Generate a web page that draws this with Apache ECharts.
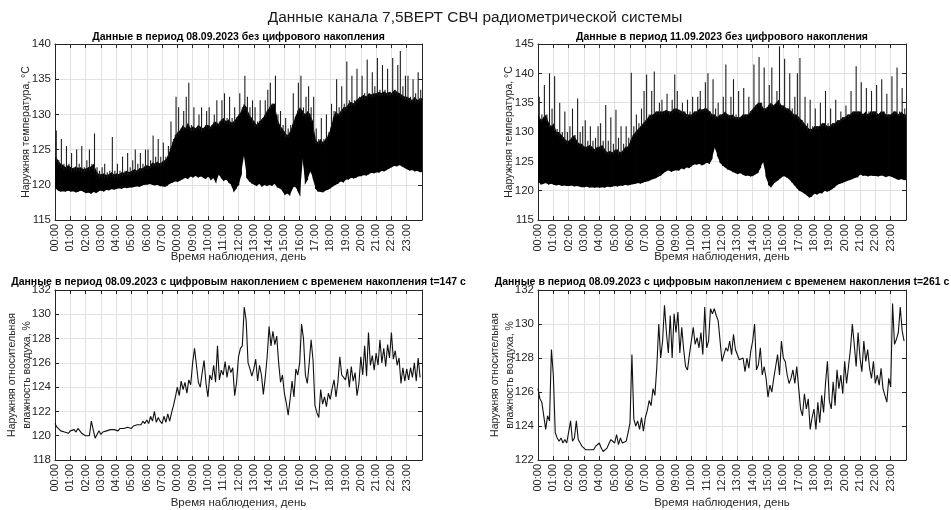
<!DOCTYPE html>
<html><head><meta charset="utf-8">
<script src="https://cdn.jsdelivr.net/npm/echarts@6/dist/echarts.min.js"></script>
<style>html,body{margin:0;padding:0;background:#fff}#c{width:951px;height:510px}</style>
</head><body><div id="c"></div><script>
// Tick labels (as shown in the reference, incl. its "00:00" at 8 h)
const xTickLabels = ['00:00','01:00','02:00','03:00','04:00','05:00','06:00','07:00','00:00','09:00','10:00','11:00',
  '12:00','13:00','14:00','15:00','16:00','17:00','18:00','19:00','20:00','21:00','22:00','23:00'];

// Top-left (08.09.2023, raw): 10-min samples
const rawStep = 1/6;
// lower edge of the signal
const tlLow = [
 119.5,119.2,119.0,119.1,119.0,119.2, 119.0,119.1,118.9,119.0,119.2,119.0,
 118.8,118.9,118.7,119.0,118.8,119.1, 119.2,119.0,119.3,119.2,119.4,119.3,
 119.4,119.5,119.4,119.6,119.5,119.6, 119.6,119.7,119.8,119.7,119.9,120.0,
 120.0,120.1,120.0,119.9,120.0,119.8, 119.8,119.7,119.9,120.2,120.3,120.5,
 120.4,120.6,120.8,121.0,120.8,121.2, 121.0,121.3,121.0,121.2,121.0,120.8,
 121.2,120.6,121.0,120.2,121.5,121.0, 120.5,120.8,120.3,120.0,118.9,119.5,
 120.0,121.5,124.5,121.0,120.5,120.2, 120.0,119.8,120.2,119.7,120.0,119.8,
 120.0,119.8,120.2,119.6,119.5,119.2, 118.5,118.8,118.4,119.5,119.8,119.2,
 118.3,124.0,120.0,120.8,122.0,121.0, 119.5,119.0,119.0,118.9,119.2,119.3,
 119.5,119.8,120.0,120.2,120.5,120.3, 120.8,120.7,121.0,120.9,121.0,121.2,
 121.2,121.4,121.3,121.5,121.7,121.6, 121.8,121.7,122.0,121.9,122.1,122.3,
 122.5,122.7,122.6,122.8,122.6,122.4, 122.2,122.0,122.1,121.9,122.0,121.8];
// upper edge of the dense (solid) part
const tlCore = [
 124.0,123.5,123.0,122.8,122.5,122.8, 122.5,122.3,122.6,122.4,122.5,122.2,
 122.3,122.5,122.6,123.0,122.0,121.5, 121.5,121.6,121.4,121.5,121.8,121.5,
 121.6,121.5,121.8,121.7,122.0,121.8, 122.0,122.2,122.0,122.4,122.3,122.6,
 122.8,122.6,123.2,123.0,123.3,123.0, 123.3,123.5,124.0,125.0,126.0,127.0,
 127.5,127.8,128.5,128.0,128.8,128.0, 128.3,128.0,128.5,128.2,128.0,128.5,
 128.5,128.2,128.8,129.0,128.6,129.2, 129.5,129.0,129.3,128.8,129.0,129.5,
 130.0,130.5,131.5,131.0,130.0,129.5, 129.0,128.5,129.0,129.3,129.8,130.5,
 131.0,131.5,131.5,129.5,128.5,128.0, 127.5,127.0,127.5,128.5,129.5,130.5,
 131.0,130.5,130.0,130.5,130.0,129.0, 126.5,126.0,126.5,126.0,126.5,127.0,
 128.0,129.5,130.5,130.0,130.5,131.0, 131.0,131.5,131.8,131.5,132.0,132.3,
 132.5,132.8,132.5,133.0,132.8,133.0, 133.0,133.2,133.0,133.3,133.0,133.2,
 133.0,133.5,133.2,133.0,132.8,132.5, 132.5,132.3,132.0,132.5,132.0,132.3];
// tips of the upward spikes
const tlHigh = [
 127.7,123.5,126.5,123.0,125.5,123.0, 124.5,122.5,125.0,123.0,125.5,122.5,
 123.5,125.0,123.0,127.3,122.5,122.0, 122.5,123.0,121.8,122.0,126.8,122.0,
 123.0,122.0,124.0,122.0,124.5,122.5, 123.5,125.0,123.0,124.5,123.0,125.0,
 125.0,123.5,127.0,124.0,126.5,124.0, 126.0,124.0,125.5,129.0,126.5,132.5,
 131.0,128.0,130.5,132.5,134.5,128.5, 131.0,128.0,130.0,131.0,128.0,130.5,
 131.0,128.5,130.0,132.0,129.0,132.0, 133.0,129.5,132.5,129.5,131.0,129.0,
 133.0,131.0,135.5,132.5,131.0,132.0, 131.0,129.0,132.0,129.5,132.0,133.5,
 134.5,131.5,135.5,130.0,130.5,128.5, 129.5,128.0,128.5,133.0,129.5,134.5,
 135.5,131.0,132.5,134.0,131.0,132.5, 128.0,126.5,129.5,126.5,130.0,127.5,
 131.5,130.5,135.0,131.0,134.0,131.5, 137.5,132.0,135.5,132.0,136.5,132.5,
 135.5,133.0,137.8,133.0,136.0,134.0, 138.0,133.5,137.0,133.5,136.5,133.0,
 138.0,133.5,137.0,139.0,134.0,135.5, 135.5,132.5,135.0,133.0,136.0,133.5];

// Top-right (11.09.2023, raw)
const trLow = [
 121.5,121.0,121.2,121.3,121.0,121.2, 121.0,120.9,121.0,120.8,120.9,120.8,
 120.8,120.9,120.7,120.8,120.7,120.6, 120.6,120.7,120.5,120.6,120.5,120.6,
 120.5,120.6,120.5,120.7,120.6,120.7, 120.8,120.7,120.9,120.8,121.0,120.9,
 121.0,121.1,121.2,121.3,121.2,121.4, 121.5,121.6,121.8,122.0,122.1,122.4,
 122.6,123.0,123.3,123.5,123.2,123.4, 123.5,123.4,123.8,123.6,124.0,123.8,
 124.2,124.5,124.4,124.6,124.3,124.5, 124.8,124.5,125.5,127.5,126.0,124.8,
 124.3,124.0,123.6,123.5,123.2,123.0, 122.8,123.0,122.7,122.5,122.6,122.4,
 122.5,122.8,123.0,124.0,125.0,122.5, 121.0,120.5,121.2,121.5,121.8,122.2,
 122.5,122.3,122.0,121.5,121.0,120.5, 120.0,119.8,119.5,119.2,118.8,119.0,
 119.5,119.3,119.6,119.5,120.0,119.8, 120.0,120.3,120.6,121.0,121.2,121.3,
 121.5,121.7,121.8,122.0,122.2,122.3, 122.8,122.5,122.6,122.4,122.6,122.5,
 122.5,122.4,122.6,122.5,122.3,122.5, 122.4,122.2,122.0,121.8,122.0,121.8];
const trCore = [
 133.0,132.0,132.5,133.0,131.5,131.0, 131.5,130.0,130.0,129.5,129.0,128.5,
 128.5,129.0,129.5,128.5,128.0,128.0, 127.5,127.5,127.8,127.5,127.0,127.5,
 127.5,127.8,127.0,126.5,126.8,126.5, 127.0,127.0,126.5,126.8,127.5,127.5,
 128.5,129.5,130.0,130.5,131.0,131.5, 132.0,132.5,133.0,133.0,133.5,133.5,
 133.5,133.5,133.8,133.5,133.5,134.0, 134.0,133.8,133.5,133.5,133.0,133.0,
 133.0,133.5,133.5,134.0,133.8,134.0, 134.0,133.5,133.0,133.0,132.5,133.0,
 133.0,133.5,133.0,132.8,133.0,132.5, 132.5,132.5,133.0,133.0,133.0,133.5,
 134.0,134.5,135.0,135.0,134.0,134.0, 134.5,135.0,134.5,135.0,135.5,134.5,
 134.5,134.0,134.0,133.5,133.0,133.0, 132.5,132.0,131.5,131.0,130.5,130.5,
 131.0,131.0,131.0,131.5,131.5,131.0, 131.0,131.5,131.5,132.0,132.0,132.5,
 132.5,133.0,133.0,133.5,133.5,133.5, 133.5,133.0,133.5,133.0,133.5,133.5,
 133.5,133.0,133.5,133.5,133.0,133.0, 133.0,133.5,133.5,133.0,133.5,133.0];
const trHigh = [
 136.0,133.0,138.0,133.0,140.0,134.0, 139.5,130.5,135.0,130.0,133.5,130.0,
 131.0,134.0,129.0,135.7,130.0,131.0, 132.0,128.5,131.0,128.5,129.0,131.0,
 131.5,128.5,134.6,128.5,132.5,128.0, 133.8,129.0,131.0,128.0,131.0,129.0,
 140.1,131.0,133.0,131.5,134.0,137.0, 139.8,133.0,137.0,140.3,133.5,135.0,
 135.5,133.0,136.5,133.5,135.5,139.8, 137.0,133.5,135.0,133.0,135.5,133.5,
 136.0,133.5,136.0,137.0,133.5,138.5, 140.0,133.5,139.0,134.0,135.0,133.0,
 136.0,141.5,133.0,136.0,139.0,133.0, 137.0,132.5,137.5,133.0,136.0,133.0,
 141.5,134.0,142.8,135.0,141.0,134.0, 138.0,141.0,134.5,137.0,144.6,134.0,
 142.5,134.0,140.0,134.0,136.0,140.0, 142.6,132.0,136.0,131.5,135.5,131.0,
 134.0,131.0,135.0,131.5,137.0,131.5, 134.0,131.0,135.5,131.5,133.5,132.0,
 134.5,132.0,137.0,132.5,141.2,133.5, 138.5,133.0,137.5,133.5,137.0,133.0,
 138.0,133.0,139.0,133.5,136.5,133.0, 139.5,133.0,141.0,133.5,137.5,134.0];

// Bottom-left (t = 147 s accumulation), 7.5-min samples
const accStep = 1/8;
const blVals = [
 121.0,120.7,120.6,120.4,120.5,120.3,120.4,120.2,
 120.4,120.3,120.5,120.3,120.6,120.4,120.2,120.1,
 120.0,119.9,120.0,121.2,121.1,119.8,120.1,120.4,
 120.1,120.3,120.2,120.4,120.3,120.5,120.4,120.5,
 120.5,120.4,120.6,120.5,120.6,120.5,120.7,120.6,
 120.6,120.8,120.7,120.9,121.0,120.9,121.2,121.0,
 121.3,121.0,121.6,121.2,122.0,121.1,121.5,121.2,
 121.0,121.6,121.1,121.8,121.2,121.9,122.5,123.2,
 124.0,123.3,124.5,123.8,124.4,123.5,124.6,124.2,
 126.0,127.2,125.8,124.4,124.0,125.2,126.2,124.3,
 123.2,125.0,124.6,125.8,124.4,127.4,124.6,125.4,
 125.0,126.1,124.8,125.8,125.2,125.6,123.3,124.4,
 126.5,127.2,127.4,130.6,129.5,126.0,125.5,124.9,
 125.5,126.3,124.5,125.8,125.0,123.4,124.8,126.5,
 129.0,127.4,128.6,127.5,128.2,126.0,124.4,125.0,
 123.5,122.7,121.7,123.0,124.5,123.2,125.5,125.0,
 126.0,129.2,128.0,125.0,124.3,126.0,127.9,126.2,
 122.5,121.9,121.5,123.8,122.6,123.2,122.4,123.5,
 123.0,123.9,124.6,123.2,124.4,126.5,125.0,124.8,
 124.6,125.5,124.0,125.7,124.5,125.2,123.3,124.3,
 126.5,125.0,127.4,124.9,128.5,125.8,126.6,125.4,
 126.8,125.8,127.9,126.0,127.2,125.7,127.5,126.4,
 128.5,126.3,127.0,125.8,126.4,124.3,125.6,124.5,
 125.5,124.6,125.6,124.8,126.0,124.5,126.4,124.8];

// Bottom-right (t = 261 s accumulation)
const brVals = [
 126.2,125.6,125.4,124.6,123.8,124.6,124.3,128.5,
 127.0,123.6,123.3,123.1,123.3,123.0,123.2,123.0,
 123.1,124.3,123.1,123.3,124.3,123.2,123.0,122.8,
 122.7,122.6,122.5,122.6,122.5,122.6,122.8,122.9,
 123.0,122.7,122.5,122.6,122.7,122.8,123.2,123.3,
 123.0,123.5,122.9,123.3,123.0,122.9,123.1,123.6,
 124.2,128.2,124.4,124.0,124.3,123.8,124.5,123.7,
 124.5,124.9,125.5,125.2,126.2,125.8,127.5,130.0,
 128.0,129.0,131.1,129.5,128.3,130.5,128.0,130.6,
 129.5,130.7,128.3,129.8,128.5,127.5,127.3,128.2,
 129.0,129.8,128.8,129.2,128.6,129.5,128.2,131.0,
 128.6,129.0,130.9,130.6,130.9,130.5,130.2,130.3,
 127.8,128.2,128.6,128.4,129.0,128.2,129.4,128.5,
 128.6,127.9,127.8,128.0,127.2,128.0,127.4,128.4,
 129.0,130.0,127.3,127.6,128.6,127.0,127.5,126.8,
 125.7,126.4,126.0,126.8,127.5,128.2,127.0,129.0,
 128.0,127.8,127.0,126.5,126.8,127.3,126.5,127.5,
 127.4,125.0,124.6,125.9,125.0,125.6,123.8,124.5,
 125.0,123.8,125.4,124.2,125.8,124.8,126.5,127.8,
 125.5,125.0,126.6,125.2,127.3,126.2,127.0,125.9,
 127.8,126.5,127.5,128.5,130.0,128.8,127.5,129.5,
 128.0,127.2,129.0,127.8,128.5,127.4,126.8,127.8,
 126.5,127.0,126.4,127.4,126.2,125.8,125.4,126.8,
 126.3,131.2,128.8,129.1,129.5,131.0,129.6,129.0];

const mainTitle = 'Данные канала 7,5ВЕРТ СВЧ радиометрической системы';
const subTitles = [
 'Данные в период 08.09.2023 без цифрового накопления',
 'Данные в период 11.09.2023 без цифрового накопления',
 'Данные в период 08.09.2023 с цифровым накоплением с временем накопления t=147 с',
 'Данные в период 08.09.2023 с цифровым накоплением с временем накопления t=261 с'];
const yNames = ['Наружняя температура, °C','Наружняя температура, °C',
 'Наружняя относительная\nвлажность воздуха, %','Наружняя относительная\nвлажность воздуха, %'];
const xName = 'Время наблюдения, день';

function pairs(vals, step){ return vals.map((v,i)=>[i*step, v]); }

const FONT = '"Liberation Sans", Arial, sans-serif';
const AX = '#262626';
const grids = [
  {left:55, top:44, width:367, height:176},
  {left:538, top:44, width:368, height:176},
  {left:55, top:290, width:367, height:176},
  {left:538, top:290, width:368, height:176}];
const yRanges = [[115,140,5],[115,145,5],[118,132,2],[122,132,2]];

// Dense raw signal: solid band lo..core, plus thin spikes core..high
function rawSeries(idx, lo, core, hi, step){
  const data = lo.map((v,i)=>[i*step, v, core[i], hi[i]]);
  const band = {
    type:'custom', xAxisIndex:idx, yAxisIndex:idx, data:data, encode:{x:0, y:[1,2]}, clip:true, z:2,
    renderItem:(params, api)=>{
      const i = params.dataIndex;
      const last = i + 1 >= data.length;
      const j = last ? i : i + 1;
      const t1 = data[i][0], t2 = last ? data[i][0] + step : data[j][0];
      const a = api.coord([t1, data[i][1]]), b = api.coord([t1, data[i][2]]);
      const c = api.coord([t2, data[j][2]]), d = api.coord([t2, data[j][1]]);
      c[0] += 0.8; d[0] += 0.8;
      return {type:'polygon', shape:{points:[a,b,c,d]}, style:{fill:'#000'}};
    }
  };
  const spikes = {
    type:'custom', xAxisIndex:idx, yAxisIndex:idx, data:data, encode:{x:0, y:[2,3]}, clip:true, z:3,
    renderItem:(params, api)=>{
      const i = params.dataIndex;
      const t = data[i][0] + step/2;
      const top = Math.max(data[i][3], data[i][2]);
      const nb = (i + 1 < data.length) ? (data[i][2] + data[i+1][2]) / 2 : data[i][2];
      const p0 = api.coord([t, nb - 0.5]), p1 = api.coord([t, top]);
      return {type:'line', shape:{x1:p0[0], y1:p0[1], x2:p1[0], y2:p1[1]},
              style:{stroke:'#1e1e1e', lineWidth:1.1}};
    }
  };
  return [band, spikes];
}

// main axes (with labels) + mirrored box axes (ticks only), MATLAB style
const mainX = grids.map((g,i)=>({
  type:'value', gridIndex:i, position:'bottom', min:0, max:24, interval:1,
  axisLine:{show:true, onZero:false, lineStyle:{color:AX, width:1}},
  axisTick:{show:true, inside:true, length:4, lineStyle:{color:AX}},
  axisLabel:{rotate:90, fontSize:11, color:AX, margin:4, fontFamily:FONT,
    formatter:(v)=> (xTickLabels[Math.round(v)] !== undefined && Math.abs(v-Math.round(v))<1e-6) ? xTickLabels[Math.round(v)] : ''},
  splitLine:{show:true, lineStyle:{color:'#e2e2e2', width:1}},
  name:xName, nameLocation:'middle', nameGap:(i<2?31:37), nameMoveOverlap:false,
  nameTextStyle:{fontSize:11.5, color:AX, fontFamily:FONT}
}));
const mainY = grids.map((g,i)=>({
  type:'value', gridIndex:i, position:'left', min:yRanges[i][0], max:yRanges[i][1], interval:yRanges[i][2],
  axisLine:{show:true, onZero:false, lineStyle:{color:AX, width:1}},
  axisTick:{show:true, inside:true, length:4, lineStyle:{color:AX}},
  axisLabel:{fontSize:11.5, color:AX, margin:4, fontFamily:FONT},
  splitLine:{show:true, lineStyle:{color:'#e2e2e2', width:1}},
  name:yNames[i], nameLocation:'middle', nameGap: i<2 ? 21 : 20, nameRotate:90, nameMoveOverlap:false,
  nameTextStyle:{fontSize:10.5, color:AX, fontFamily:FONT, lineHeight:15}
}));
const boxX = grids.map((g,i)=>({
  type:'value', gridIndex:i, position:'top', min:0, max:24, interval:1,
  axisLine:{show:true, onZero:false, lineStyle:{color:AX, width:1}},
  axisTick:{show:true, inside:true, length:4, lineStyle:{color:AX}},
  axisLabel:{show:false}, splitLine:{show:false}
}));
const boxY = grids.map((g,i)=>({
  type:'value', gridIndex:i, position:'right', min:yRanges[i][0], max:yRanges[i][1], interval:yRanges[i][2],
  axisLine:{show:true, onZero:false, lineStyle:{color:AX, width:1}},
  axisTick:{show:true, inside:true, length:4, lineStyle:{color:AX}},
  axisLabel:{show:false}, splitLine:{show:false}
}));

const chart = echarts.init(document.getElementById('c'), null, {renderer:'canvas'});
const option = {
  backgroundColor:'#fff',
  animation:false,
  textStyle:{fontFamily:FONT},
  title: [
    {text:mainTitle, left:475, top:10, padding:0, textAlign:'center',
     textStyle:{fontSize:15.4, fontWeight:'normal', color:'#1a1a1a', fontFamily:FONT}},
  ].concat(grids.map((g,i)=>({
    text:subTitles[i], left:g.left + g.width/2, top:(i<2?32:277), padding:0, textAlign:'center',
    textStyle:{fontSize:10.5, fontWeight:'bold', color:'#000', fontFamily:FONT}}))),
  grid: grids.map(g=>Object.assign({show:false, containLabel:false}, g)),
  xAxis: mainX.concat(boxX),
  yAxis: mainY.concat(boxY),
  series: [].concat(
    rawSeries(0, tlLow, tlCore, tlHigh, rawStep),
    rawSeries(1, trLow, trCore, trHigh, rawStep),
    [
    {type:'line', xAxisIndex:2, yAxisIndex:2, data:pairs(blVals, accStep), symbol:'none',
     lineStyle:{color:'#111', width:1.1}},
    {type:'line', xAxisIndex:3, yAxisIndex:3, data:pairs(brVals, accStep), symbol:'none',
     lineStyle:{color:'#111', width:1.1}}
    ])
};
chart.setOption(option);
</script></body></html>
